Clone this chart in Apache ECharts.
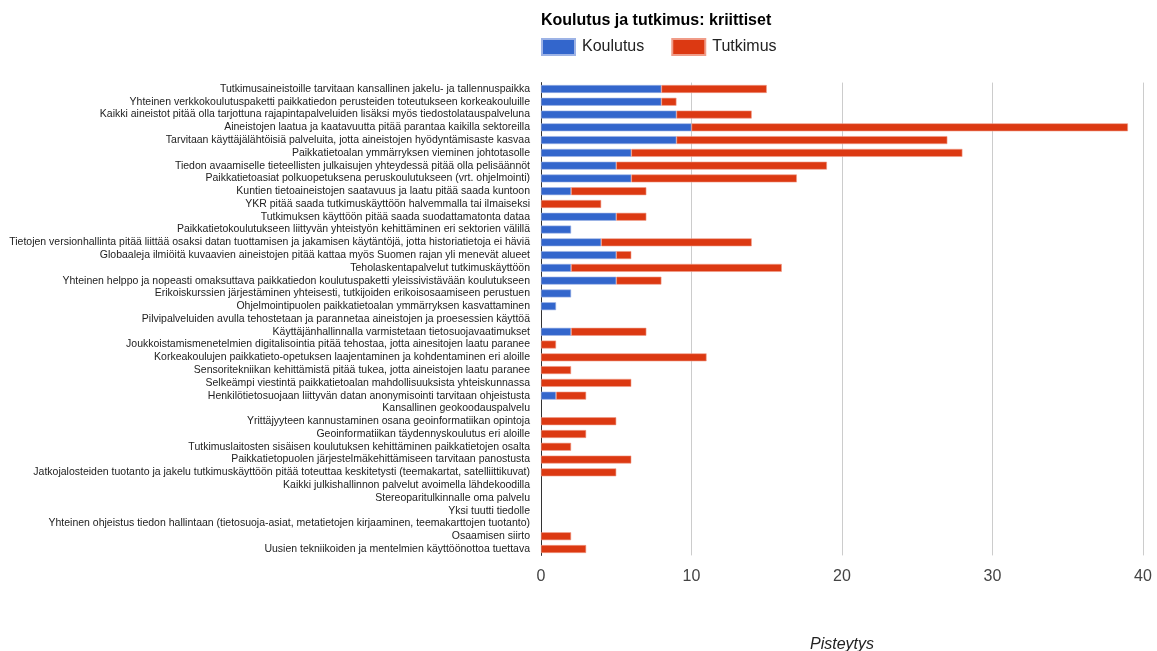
<!DOCTYPE html>
<html>
<head>
<meta charset="utf-8">
<script src="https://cdn.jsdelivr.net/npm/echarts@6/dist/echarts.min.js"></script>
<style>
  html, body { margin: 0; padding: 0; background: #fff; }
  #chart { width: 1157px; height: 651px; }
</style>
</head>
<body>
<div id="chart"></div>
<script>
// Proposals, listed top to bottom
const categories = [
  'Tutkimusaineistoille tarvitaan kansallinen jakelu- ja tallennuspaikka',
  'Yhteinen verkkokoulutuspaketti paikkatiedon perusteiden toteutukseen korkeakouluille',
  'Kaikki aineistot pitää olla tarjottuna rajapintapalveluiden lisäksi myös tiedostolatauspalveluna',
  'Aineistojen laatua ja kaatavuutta pitää parantaa kaikilla sektoreilla',
  'Tarvitaan käyttäjälähtöisiä palveluita, jotta aineistojen hyödyntämisaste kasvaa',
  'Paikkatietoalan ymmärryksen vieminen johtotasolle',
  'Tiedon avaamiselle tieteellisten julkaisujen yhteydessä pitää olla pelisäännöt',
  'Paikkatietoasiat polkuopetuksena peruskoulutukseen (vrt. ohjelmointi)',
  'Kuntien tietoaineistojen saatavuus ja laatu pitää saada kuntoon',
  'YKR pitää saada tutkimuskäyttöön halvemmalla tai ilmaiseksi',
  'Tutkimuksen käyttöön pitää saada suodattamatonta dataa',
  'Paikkatietokoulutukseen liittyvän yhteistyön kehittäminen eri sektorien välillä',
  'Tietojen versionhallinta pitää liittää osaksi datan tuottamisen ja jakamisen käytäntöjä, jotta historiatietoja ei häviä',
  'Globaaleja ilmiöitä kuvaavien aineistojen pitää kattaa myös Suomen rajan yli menevät alueet',
  'Teholaskentapalvelut tutkimuskäyttöön',
  'Yhteinen helppo ja nopeasti omaksuttava paikkatiedon koulutuspaketti yleissivistävään koulutukseen',
  'Erikoiskurssien järjestäminen yhteisesti, tutkijoiden erikoisosaamiseen perustuen',
  'Ohjelmointipuolen paikkatietoalan ymmärryksen kasvattaminen',
  'Pilvipalveluiden avulla tehostetaan ja parannetaa aineistojen ja proesessien käyttöä',
  'Käyttäjänhallinnalla varmistetaan tietosuojavaatimukset',
  'Joukkoistamismenetelmien digitalisointia pitää tehostaa, jotta ainesitojen laatu paranee',
  'Korkeakoulujen paikkatieto-opetuksen laajentaminen ja kohdentaminen eri aloille',
  'Sensoritekniikan kehittämistä pitää tukea, jotta aineistojen laatu paranee',
  'Selkeämpi viestintä paikkatietoalan mahdollisuuksista yhteiskunnassa',
  'Henkilötietosuojaan liittyvän datan anonymisointi tarvitaan ohjeistusta',
  'Kansallinen geokoodauspalvelu',
  'Yrittäjyyteen kannustaminen osana geoinformatiikan opintoja',
  'Geoinformatiikan täydennyskoulutus eri aloille',
  'Tutkimuslaitosten sisäisen koulutuksen kehittäminen paikkatietojen osalta',
  'Paikkatietopuolen järjestelmäkehittämiseen tarvitaan panostusta',
  'Jatkojalosteiden tuotanto ja jakelu tutkimuskäyttöön pitää toteuttaa keskitetysti (teemakartat, satelliittikuvat)',
  'Kaikki julkishallinnon palvelut avoimella lähdekoodilla',
  'Stereoparitulkinnalle oma palvelu',
  'Yksi tuutti tiedolle',
  'Yhteinen ohjeistus tiedon hallintaan (tietosuoja-asiat, metatietojen kirjaaminen, teemakarttojen tuotanto)',
  'Osaamisen siirto',
  'Uusien tekniikoiden ja mentelmien käyttöönottoa tuettava'
];

// Scores from the education sector
const koulutus = [8, 8, 9, 10, 9, 6, 5, 6, 2, 0, 5, 2, 4, 5, 2, 5, 2, 1, 0, 2, 0, 0, 0, 0, 1, 0, 0, 0, 0, 0, 0, 0, 0, 0, 0, 0, 0];

// Scores from the research sector
const tutkimus = [7, 1, 5, 29, 18, 22, 14, 11, 5, 4, 2, 0, 10, 1, 14, 3, 0, 0, 0, 5, 1, 11, 2, 6, 2, 0, 5, 3, 2, 6, 5, 0, 0, 0, 0, 2, 3];

const xTicks = [0, 10, 20, 30, 40];

const chart = echarts.init(document.getElementById('chart'), null, { renderer: 'canvas' });

const font = 'Arial, "Liberation Sans", sans-serif';

// Empty segments get no outline so nothing shows at the axis
const segments = (values) => values.map(v => (v ? v : { value: v, itemStyle: { borderWidth: 0 } }));

chart.setOption({
  animation: false,
  textStyle: { fontFamily: font },
  title: {
    text: 'Koulutus ja tutkimus: kriittiset',
    left: 541,
    top: 13,
    padding: 0,
    textStyle: { fontSize: 16, fontWeight: 'bold', color: '#000', fontFamily: font }
  },
  legend: {
    left: 541,
    top: 38,
    padding: 0,
    itemWidth: 33,
    itemHeight: 16,
    itemGap: 27,
    icon: 'rect',
    textStyle: { fontSize: 16, color: '#222', fontFamily: font, padding: [0, 0, 0, 2] },
    data: ['Koulutus', 'Tutkimus']
  },
  grid: {
    left: 541,
    right: 14,
    top: 82.6,
    bottom: 95.6,
    containLabel: false,
    outerBoundsMode: 'none'
  },
  xAxis: {
    type: 'value',
    min: xTicks[0],
    max: xTicks[xTicks.length - 1],
    interval: 10,
    name: 'Pisteytys',
    nameLocation: 'middle',
    nameGap: 81,
    nameTextStyle: { fontSize: 16, fontStyle: 'italic', color: '#222', fontFamily: font },
    axisLine: { show: false },
    axisTick: { show: false },
    axisLabel: { fontSize: 16, color: '#444', margin: 13, fontFamily: font },
    splitLine: { show: true, lineStyle: { color: '#cccccc', width: 1 } }
  },
  yAxis: {
    type: 'category',
    inverse: true,
    data: categories,
    axisLine: { show: true, onZero: false, lineStyle: { color: '#333', width: 1 } },
    axisTick: { show: false },
    axisLabel: { fontSize: 10.5, color: '#222', margin: 11, fontFamily: font, interval: 0 },
    splitLine: { show: false }
  },
  series: [
    {
      name: 'Koulutus',
      type: 'bar',
      stack: 'total',
      data: segments(koulutus),
      barCategoryGap: '38%',
      itemStyle: { color: '#3366cc', borderColor: '#9db3e6', borderWidth: 0.6 }
    },
    {
      name: 'Tutkimus',
      type: 'bar',
      stack: 'total',
      data: segments(tutkimus),
      barCategoryGap: '38%',
      itemStyle: { color: '#dc3912', borderColor: '#f09c88', borderWidth: 0.6 }
    }
  ]
});
</script>
</body>
</html>
